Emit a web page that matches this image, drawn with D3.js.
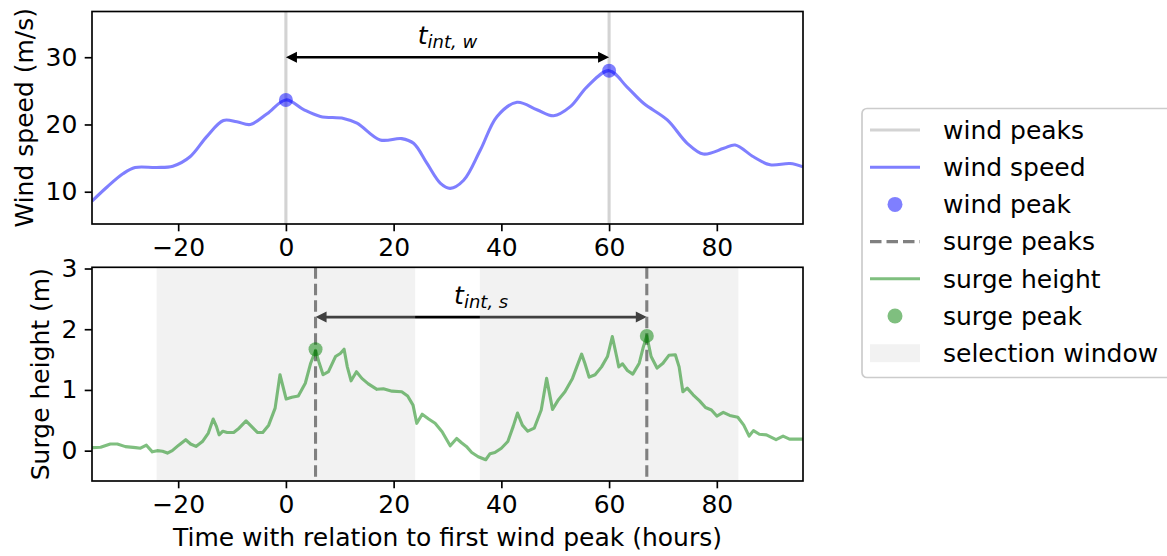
<!DOCTYPE html>
<html>
<head>
<meta charset="utf-8">
<script src="https://cdn.jsdelivr.net/npm/d3@7"></script>
<style>
  body { margin: 0; background: #fff; }
  svg text { font-family: "DejaVu Sans", sans-serif; }
</style>
</head>
<body>
<div id="chart"></div>
<script>
// wind speed (m/s) against hours from first wind peak
var windHours = [-36, -33.2, -30.2, -28, -24, -21, -17.8, -14.7, -11.6, -9.1, -6.6, -3.5, 0,
    3.3, 6.4, 10.7, 13.2, 17.5, 21.5, 23.7, 26.2, 28.7, 30.5, 33, 36.1, 39.2, 42.9, 46.6,
    49.7, 52.8, 55.9, 60, 63.3, 66.4, 70.8, 74.5, 77.5, 81.3, 83.4, 86.8, 89.9, 93.6, 96];
var windSpeed = [8.6, 10.7, 12.7, 13.6, 13.6, 13.8, 15.2, 18.2, 20.6, 20.4, 20.0, 21.6, 23.65,
    22.2, 21.2, 20.9, 20.2, 17.7, 17.9, 17.2, 14.2, 11.25, 10.5, 11.7, 16.2, 21.2, 23.3, 22.2,
    21.3, 22.65, 25.6, 28.0, 25.6, 23.15, 20.67, 17.2, 15.6, 16.45, 16.95, 15.2, 14.0, 14.2, 13.7];

// surge height (m)
var surgeHours = [-36, -34.4, -32.6, -31.3, -29.8, -27.9, -27, -25.9, -24.8, -23.9, -22.9, -22, -21.1,
    -19.9, -18.6, -17.7, -16.7, -15.5, -14.4, -13.5, -12.9, -12.4, -11.7, -10.9, -9.7, -8.7, -7.4,
    -6.4, -5.3, -4.3, -3.2, -2, -1.1, 0.05, 1.1, 2.3, 3.6, 4.6, 5.5, 6.1, 6.9, 7.9, 9.2, 10.1, 10.8,
    11.4, 12.1, 13.1, 14.1, 15.3, 16.9, 18.1, 19.7, 21.5, 22.6, 23.6, 24.3, 25.3, 26.5, 27.7, 29,
    30.5, 31.7, 32.6, 33.5, 34.5, 35.7, 37.1, 37.9, 38.8, 40, 41.2, 42.2, 43, 43.9, 44.9, 46.1,
    47.4, 48.4, 49.5, 50.6, 51.8, 53.2, 54, 54.9, 55.5, 56.3, 57.4, 58.6, 59.7, 60.6, 61.4, 61.8,
    62.5, 63.4, 64.4, 65.6, 66.3, 67, 67.8, 68.9, 70, 71.1, 72.3, 73, 73.7, 74.5, 75.6, 76.8, 77.9,
    79, 80, 81.2, 82.4, 83.9, 85, 86, 86.8, 87.9, 89.2, 91, 92.3, 93.5, 96];
var surgeHeight = [0.05, 0.055, 0.11, 0.11, 0.066, 0.05, 0.04, 0.09, -0.02, 0.0, -0.01, -0.04, 0.0,
    0.09, 0.18, 0.11, 0.07, 0.15, 0.29, 0.52, 0.40, 0.26, 0.32, 0.30, 0.30, 0.37, 0.49,
    0.40, 0.30, 0.30, 0.42, 0.70, 1.25, 0.85, 0.88, 0.90, 1.11, 1.44, 1.65, 1.47, 1.25, 1.30, 1.55, 1.60, 1.67,
    1.38, 1.15, 1.30, 1.19, 1.10, 1.01, 1.02, 0.98, 0.97, 0.90, 0.75, 0.45, 0.60, 0.52, 0.45, 0.31,
    0.08, 0.20, 0.13, 0.07, -0.03, -0.10, -0.15, -0.05, -0.03, 0.04, 0.15, 0.40, 0.62, 0.42, 0.32, 0.37,
    0.67, 1.19, 0.68, 0.84, 0.97, 1.19, 1.38, 1.59, 1.44, 1.21, 1.25, 1.38, 1.55, 1.88, 1.55, 1.38,
    1.43, 1.32, 1.26, 1.44, 1.69, 1.89, 1.55, 1.36, 1.44, 1.57, 1.58, 1.38, 0.97, 1.03, 0.92, 0.82, 0.71,
    0.67, 0.57, 0.63, 0.58, 0.55, 0.42, 0.24, 0.33, 0.27, 0.26, 0.18, 0.24, 0.19, 0.19];

var windPeakHours = [0, 60];
var windPeakValues = [23.65, 28.0];
var surgePeakHours = [5.5, 67];
var surgePeakValues = [1.67, 1.89];
var windowStarts = [-24, 36];
var windowEnds = [24, 84];

var arrowWindY = 30;
var arrowSurgeY = 2.2;

var xTicks = [-20, 0, 20, 40, 60, 80];
var windTicks = [10, 20, 30];
var surgeTicks = [0, 1, 2, 3];

var legendLabels = ["wind peaks", "wind speed", "wind peak", "surge peaks", "surge height", "surge peak", "selection window"];

var width = 1167;
var height = 556;
var fs = 25;
var lw = 3.1;
var tick = 7.3;

var svg = d3.select("#chart").append("svg")
    .attr("width", width)
    .attr("height", height);

var x = d3.scaleLinear().domain([-36, 96]).range([92, 803]);
var yW = d3.scaleLinear().domain([5.2, 36.8]).range([224, 11.5]);
var yS = d3.scaleLinear().domain([-0.5, 3.02]).range([481, 267.3]);

var windData = windHours.map(function (h, i) { return { key: h, value: windSpeed[i] } });
var surgeData = surgeHours.map(function (h, i) { return { key: h, value: surgeHeight[i] } });

svg.append("clipPath").attr("id", "clipW")
    .append("rect").attr("x", 92).attr("y", 11.5).attr("width", 711).attr("height", 212.5);
svg.append("clipPath").attr("id", "clipS")
    .append("rect").attr("x", 92).attr("y", 267.3).attr("width", 711).attr("height", 213.7);

function arrow(g, x1, x2, yy, color) {
    var hl = 11, hw = 5.5;
    g.append("line")
        .attr("x1", x1 + hl - 1).attr("x2", x2 - hl + 1)
        .attr("y1", yy).attr("y2", yy)
        .attr("stroke", color).attr("stroke-width", 2.6);
    g.append("path")
        .attr("d", `M${x1},${yy}L${x1 + hl},${yy - hw}L${x1 + hl},${yy + hw}Z`)
        .attr("fill", color);
    g.append("path")
        .attr("d", `M${x2},${yy}L${x2 - hl},${yy - hw}L${x2 - hl},${yy + hw}Z`)
        .attr("fill", color);
}

function label(g, cx, yy, sub) {
    var t = g.append("text")
        .attr("x", cx).attr("y", yy)
        .attr("text-anchor", "middle")
        .attr("font-size", fs)
        .attr("font-style", "italic")
        .attr("fill", "black");
    t.append("tspan").text("t");
    t.append("tspan").attr("font-size", fs * 0.72).attr("dy", 4).text(sub);
}

function axes(g, y, yTicks, top, bottom) {
    g.append("g")
        .attr("transform", `translate(0,${bottom})`)
        .call(d3.axisBottom(x).tickValues(xTicks).tickFormat(d3.format("d")).tickSize(tick).tickPadding(tick))
        .call(function (a) { a.select(".domain").remove() })
        .call(function (a) {
            a.selectAll("line").attr("stroke-width", 1.67);
            a.selectAll("text").attr("font-size", fs).attr("font-family", "DejaVu Sans").attr("fill", "black");
        });
    g.append("g")
        .attr("transform", `translate(92,0)`)
        .call(d3.axisLeft(y).tickValues(yTicks).tickFormat(d3.format("d")).tickSize(tick).tickPadding(tick))
        .call(function (a) { a.select(".domain").remove() })
        .call(function (a) {
            a.selectAll("line").attr("stroke-width", 1.67);
            a.selectAll("text").attr("font-size", fs).attr("font-family", "DejaVu Sans").attr("fill", "black");
        });
    g.append("rect")
        .attr("x", 92).attr("y", top)
        .attr("width", 711).attr("height", bottom - top)
        .attr("fill", "none").attr("stroke", "black").attr("stroke-width", 1.67);
}

// ---- top panel: wind ----
var gw = svg.append("g");
var gwc = gw.append("g").attr("clip-path", "url(#clipW)");

windPeakHours.forEach(function (h) {
    gwc.append("line")
        .attr("x1", x(h)).attr("x2", x(h))
        .attr("y1", 11.5).attr("y2", 224)
        .attr("stroke", "lightgray").attr("stroke-width", lw);
});

gwc.append("path")
    .datum(windData)
    .attr("fill", "none")
    .attr("stroke", "blue")
    .attr("stroke-opacity", 0.5)
    .attr("stroke-width", lw)
    .attr("d", d3.line()
        .curve(d3.curveCatmullRom.alpha(0.5))
        .x(function (d) { return x(d.key) })
        .y(function (d) { return yW(d.value) })
    );

windPeakHours.forEach(function (h, i) {
    gwc.append("circle")
        .attr("cx", x(h)).attr("cy", yW(windPeakValues[i])).attr("r", 7)
        .attr("fill", "blue").attr("fill-opacity", 0.5);
});

arrow(gw, x(windPeakHours[0]), x(windPeakHours[1]), yW(arrowWindY), "black");
label(gw, x((windPeakHours[0] + windPeakHours[1]) / 2), yW(arrowWindY) - 13.5, "int, w");

axes(gw, yW, windTicks, 11.5, 224);

gw.append("text")
    .attr("transform", "translate(33," + (11.5 + 224) / 2 + ") rotate(-90)")
    .attr("text-anchor", "middle")
    .attr("font-size", fs)
    .text("Wind speed (m/s)");

// ---- bottom panel: surge ----
var gs = svg.append("g");
var gsc = gs.append("g").attr("clip-path", "url(#clipS)");

arrow(gsc, x(surgePeakHours[0]), x(surgePeakHours[1]), yS(arrowSurgeY), "black");

windowStarts.forEach(function (s, i) {
    gsc.append("rect")
        .attr("x", x(s)).attr("y", 267.3)
        .attr("width", x(windowEnds[i]) - x(s)).attr("height", 213.7)
        .attr("fill", "lightgray").attr("fill-opacity", 0.3);
});

surgePeakHours.forEach(function (h) {
    gsc.append("line")
        .attr("x1", x(h)).attr("x2", x(h))
        .attr("y1", 267.3).attr("y2", 481)
        .attr("stroke", "gray").attr("stroke-width", lw)
        .attr("stroke-dasharray", "11.5,5");
});

gsc.append("path")
    .datum(surgeData)
    .attr("fill", "none")
    .attr("stroke", "green")
    .attr("stroke-opacity", 0.5)
    .attr("stroke-width", lw)
    .attr("stroke-linejoin", "round")
    .attr("d", d3.line()
        .x(function (d) { return x(d.key) })
        .y(function (d) { return yS(d.value) })
    );

surgePeakHours.forEach(function (h, i) {
    gsc.append("circle")
        .attr("cx", x(h)).attr("cy", yS(surgePeakValues[i])).attr("r", 7)
        .attr("fill", "green").attr("fill-opacity", 0.5);
});

label(gs, x((surgePeakHours[0] + surgePeakHours[1]) / 2), yS(arrowSurgeY) - 13.5, "int, s");

axes(gs, yS, surgeTicks, 267.3, 481);

gs.append("text")
    .attr("transform", "translate(49," + (267.3 + 481) / 2 + ") rotate(-90)")
    .attr("text-anchor", "middle")
    .attr("font-size", fs)
    .text("Surge height (m)");

svg.append("text")
    .attr("x", (92 + 803) / 2).attr("y", 546)
    .attr("text-anchor", "middle")
    .attr("font-size", fs)
    .text("Time with relation to first wind peak (hours)");

// ---- legend ----
var lg = svg.append("g");
lg.append("rect")
    .attr("x", 862).attr("y", 108.5)
    .attr("width", 340).attr("height", 269)
    .attr("rx", 5)
    .attr("fill", "white").attr("fill-opacity", 0.8)
    .attr("stroke", "#cccccc").attr("stroke-width", 1.7);

var rowY = d3.scaleLinear().domain([0, 6]).range([130, 353.2]);
legendLabels.forEach(function (name, i) {
    var yy = rowY(i);
    if (i == 0 || i == 1 || i == 3 || i == 4) {
        var ln = lg.append("line")
            .attr("x1", 870).attr("x2", 920)
            .attr("y1", yy).attr("y2", yy)
            .attr("stroke-width", lw);
        if (i == 0) ln.attr("stroke", "lightgray");
        if (i == 1) ln.attr("stroke", "blue").attr("stroke-opacity", 0.5);
        if (i == 3) ln.attr("stroke", "gray").attr("stroke-dasharray", "11.5,5");
        if (i == 4) ln.attr("stroke", "green").attr("stroke-opacity", 0.5);
    } else if (i == 2 || i == 5) {
        lg.append("circle")
            .attr("cx", 895).attr("cy", yy).attr("r", 7.5)
            .attr("fill", i == 2 ? "blue" : "green").attr("fill-opacity", 0.5);
    } else {
        lg.append("rect")
            .attr("x", 870).attr("y", yy - 9)
            .attr("width", 50).attr("height", 18)
            .attr("fill", "lightgray").attr("fill-opacity", 0.3);
    }
    lg.append("text")
        .attr("x", 943).attr("y", yy)
        .attr("dy", "0.35em")
        .attr("font-size", fs)
        .text(name);
});
</script>
</body>
</html>
